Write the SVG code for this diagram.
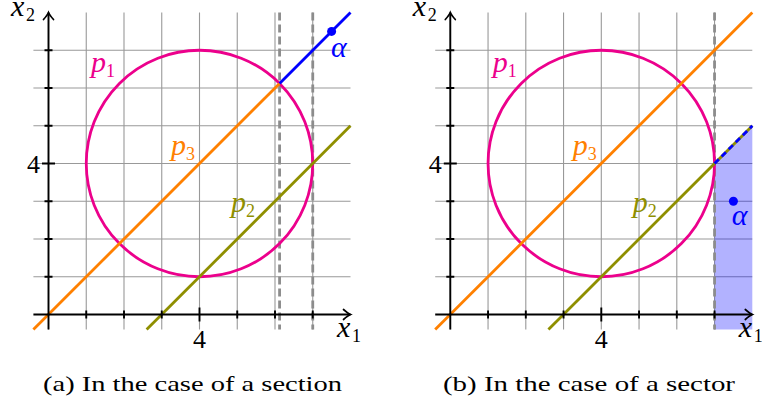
<svg xmlns="http://www.w3.org/2000/svg" xmlns:xlink="http://www.w3.org/1999/xlink" width="762" height="403" viewBox="0 0 762 403">
<style>
.grid{stroke:#999;stroke-width:1.1;fill:none}
.axis{stroke:#000;stroke-width:1.9;fill:none}
.dash{stroke:#8c8c8c;stroke-width:2.8;stroke-dasharray:8 4;fill:none}
.circ{stroke:#ec008c;stroke-width:2.8;fill:none}
.or{stroke:#ff8000;stroke-width:2.8;fill:none}
.ol{stroke:#8f8f00;stroke-width:2.8;fill:none}
.bl{stroke:#0000ff;stroke-width:2.8;fill:none}
.bld{stroke:#0000ff;stroke-width:2.8;fill:none;stroke-dasharray:6 4}
.shade{fill:#0000ff;fill-opacity:0.3;stroke:none}
.t{font-family:'Liberation Serif',serif;fill:#000}
.num{font-size:26px;text-anchor:middle}
.it{font-style:italic;font-size:30px}
.sub{font-size:18px}
.cap{font-size:22px}
.mag{fill:#ec008c}.ora{fill:#ff8000}.olv{fill:#8f8f00}.blu{fill:#0000ff}
</style>
<defs>
<marker id="arr" markerUnits="userSpaceOnUse" markerWidth="14" markerHeight="14" viewBox="-10 -7 12 14" refX="0" refY="0" orient="auto" overflow="visible">
<path d="M-7 -5Q-2.5 -1 0 0Q-2.5 1 -7 5" fill="none" stroke="#000" stroke-width="1.7" stroke-linecap="round"/>
</marker>
<path id="gridlines" class="grid" d="M48.5 12.5V329.6M86.25 12.5V329.6M124 12.5V329.6M161.75 12.5V329.6M199.5 12.5V329.6M237.25 12.5V329.6M275 12.5V329.6M312.75 12.5V329.6M33.4 276.75H350.5M33.4 239H350.5M33.4 201.25H350.5M33.4 163.5H350.5M33.4 125.75H350.5M33.4 88H350.5M33.4 50.25H350.5"/>
<g id="axes">
<path class="axis" d="M33.4 314.5H350.5" marker-end="url(#arr)"/>
<path class="axis" d="M48.5 329.6V12.5" marker-end="url(#arr)"/>
<path class="axis" d="M86.25 310.5V318.5M124 310.5V318.5M161.75 310.5V318.5M199.5 307.5V321.5M237.25 310.5V318.5M275 310.5V318.5M312.75 310.5V318.5M44.5 276.75H52.5M44.5 239H52.5M44.5 201.25H52.5M42 163.5H55M44.5 125.75H52.5M44.5 88H52.5M44.5 50.25H52.5"/>
<text class="t it" x="11" y="16">x</text><text class="t sub" x="26" y="21">2</text>
<text class="t it" x="337" y="337">x</text><text class="t sub" x="352" y="342">1</text>
<text class="t num" x="199.5" y="348">4</text>
<text class="t num" x="33.5" y="173">4</text>
</g>
</defs>

<g id="panel-a">
<use xlink:href="#gridlines"/>
<path class="dash" d="M279.58 12.5V329.6M312.75 12.5V329.6"/>
<g id="p1-circle"><circle class="circ" cx="199.5" cy="163.5" r="113.25"/><text class="t it mag" x="91" y="72">p</text><text class="t sub mag" x="106" y="77">1</text></g>
<g id="p3-line"><line class="or" x1="33.4" y1="329.6" x2="279.58" y2="83.42"/><text class="t it ora" x="171" y="155">p</text><text class="t sub ora" x="186" y="160">3</text></g>
<g id="p2-line"><line class="ol" x1="146.65" y1="329.6" x2="350.5" y2="125.75"/><text class="t it olv" x="231" y="212">p</text><text class="t sub olv" x="246" y="217">2</text></g>
<g id="alpha-a"><line class="bl" x1="279.58" y1="83.42" x2="350.5" y2="12.5"/><circle cx="331.6" cy="31.4" r="4.5" fill="#0000ff"/><text class="t it blu" x="331" y="57">α</text></g>
<use xlink:href="#axes"/>
</g>

<g id="panel-b" transform="translate(401.8 0)">
<use xlink:href="#gridlines"/>
<polygon class="shade" points="312.75,329.6 312.75,163.5 350.5,125.75 350.5,329.6"/>
<path class="dash" d="M312.75 12.5V329.6"/>
<g id="p1-circle-b"><circle class="circ" cx="199.5" cy="163.5" r="113.25"/><text class="t it mag" x="91" y="72">p</text><text class="t sub mag" x="106" y="77">1</text></g>
<g id="p3-line-b"><line class="or" x1="33.4" y1="329.6" x2="350.5" y2="12.5"/><text class="t it ora" x="171" y="155">p</text><text class="t sub ora" x="186" y="160">3</text></g>
<g id="p2-line-b"><line class="ol" x1="146.65" y1="329.6" x2="350.5" y2="125.75"/><text class="t it olv" x="231" y="212">p</text><text class="t sub olv" x="246" y="217">2</text></g>
<g id="alpha-b"><line class="bld" x1="312.75" y1="163.5" x2="350.5" y2="125.75"/><circle cx="331.6" cy="201.25" r="4.5" fill="#0000ff"/><text class="t it blu" x="330" y="225">α</text></g>
<use xlink:href="#axes"/>
</g>

<text class="t cap" x="43" y="391" textLength="299" lengthAdjust="spacingAndGlyphs">(a) In the case of a section</text>
<text class="t cap" x="443" y="391" textLength="292" lengthAdjust="spacingAndGlyphs">(b) In the case of a sector</text>
</svg>
